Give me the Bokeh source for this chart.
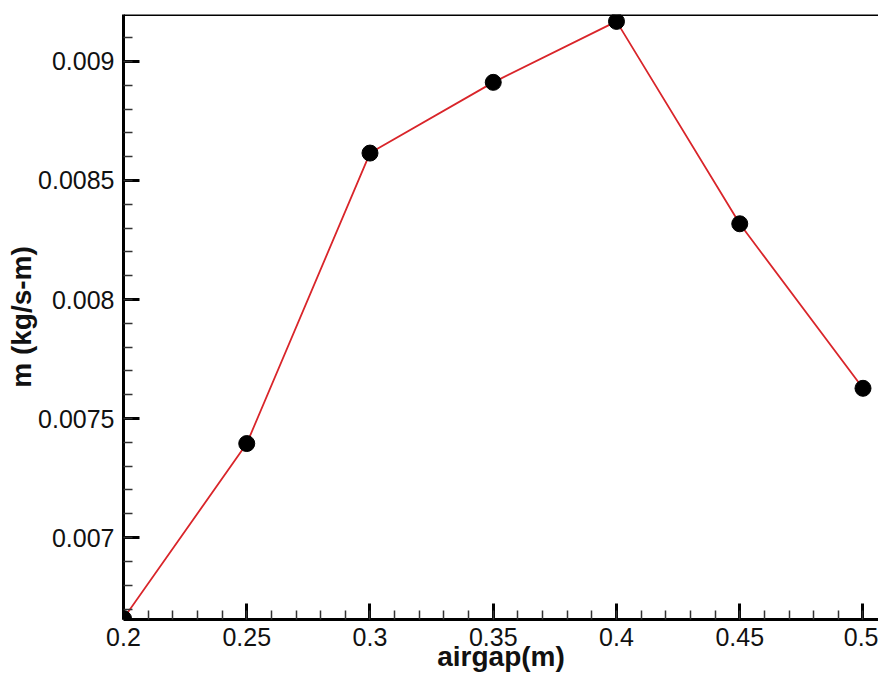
from bokeh.plotting import figure
from bokeh.models import Range1d, FixedTicker, Span, CustomJSTickFormatter
from bokeh.embed import file_html
from bokeh.resources import INLINE

airgap = [0.2, 0.25, 0.3, 0.35, 0.4, 0.45, 0.5]
mass_flow = [0.00666, 0.007395, 0.008615, 0.008912, 0.009168, 0.008318, 0.007627]

x_major = [0.2, 0.25, 0.3, 0.35, 0.4, 0.45, 0.5]
x_minor = [round(0.2 + 0.01 * i, 2) for i in range(31)]
y_major = [0.007, 0.0075, 0.008, 0.0085, 0.009]
y_minor = [round(0.0067 + 0.0001 * i, 4) for i in range(25)]

x_title = "airgap(m)"
y_title = "m (kg/s-m)"

x0, x1 = 0.2, 0.50629
y0, y1 = 0.006656, 0.009197

p = figure(width=878, height=675, output_backend="svg", toolbar_location=None,
           x_range=Range1d(x0, x1), y_range=Range1d(y0, y1),
           min_border_left=123, min_border_right=0, min_border_top=14, min_border_bottom=56)

p.background_fill_color = "white"
p.border_fill_color = "white"
p.outline_line_color = None
p.grid.visible = False

p.line(airgap, mass_flow, line_color="#d9252a", line_width=1.8)
p.scatter(airgap, mass_flow, size=16, marker="circle", fill_color="black", line_color="black")

p.add_layout(Span(location=y1, dimension="width", line_color="black", line_width=3))

for ax in (p.xaxis[0], p.yaxis[0]):
    ax.axis_line_width = 3
    ax.axis_line_color = "black"
    ax.major_tick_in = 16
    ax.major_tick_out = 0
    ax.minor_tick_in = 9
    ax.minor_tick_out = 0
    ax.major_tick_line_width = 3
    ax.minor_tick_line_width = 1.5
    ax.major_tick_line_color = "black"
    ax.minor_tick_line_color = "#333333"
    ax.major_label_text_font = "Liberation Sans"
    ax.major_label_text_font_size = "25px"
    ax.major_label_text_color = "#111111"
    ax.axis_label_text_font = "Liberation Sans"
    ax.axis_label_text_font_style = "bold"
    ax.axis_label_text_font_size = "28px"
    ax.axis_label_text_color = "#111111"

p.xaxis[0].ticker = FixedTicker(ticks=x_major, minor_ticks=x_minor)
p.yaxis[0].ticker = FixedTicker(ticks=y_major, minor_ticks=y_minor)
fmt = CustomJSTickFormatter(code="return String(parseFloat(tick.toPrecision(6)));")
p.xaxis[0].formatter = fmt
p.yaxis[0].formatter = fmt
p.xaxis[0].major_label_standoff = 8
p.yaxis[0].major_label_standoff = 9
p.xaxis[0].axis_label = x_title
p.yaxis[0].axis_label = y_title
p.xaxis[0].axis_label_standoff = -8
p.yaxis[0].axis_label_standoff = -2

open("out.html", "w").write(file_html(p, INLINE))
